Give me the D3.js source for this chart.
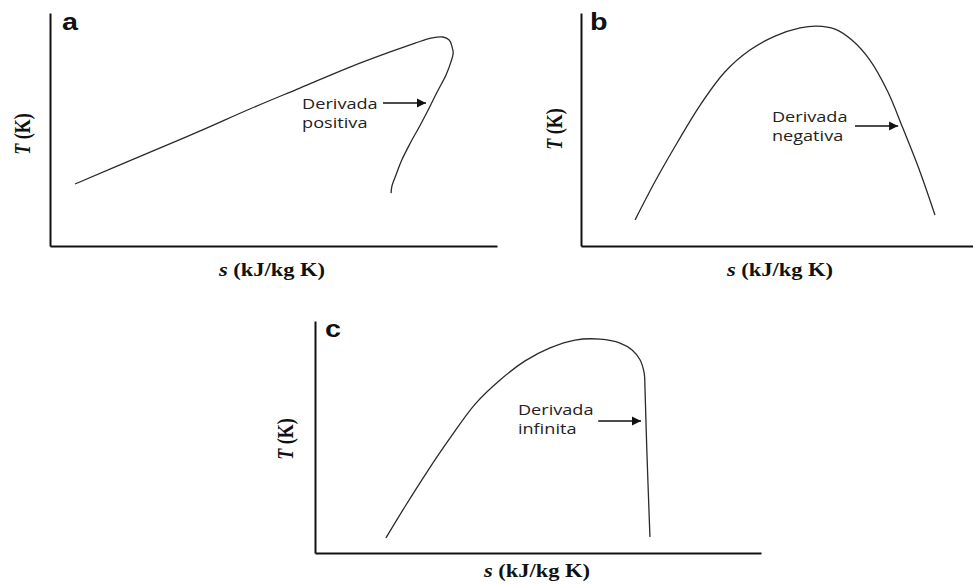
<!DOCTYPE html>
<html>
<head>
<meta charset="utf-8">
<script src="https://cdn.jsdelivr.net/npm/d3@7"></script>
<style>
  html, body { margin: 0; padding: 0; background: #fff; }
  svg { display: block; }
</style>
</head>
<body>
<svg id="chart" width="973" height="584"></svg>
<script>
// Curve samples (s, T) for each panel, in relative units 0–100 of each axis.
const sA = [5.6, 22.4, 33.6, 44.7, 55.9, 67.1, 76.1, 81.7, 85.5, 87.9, 89.3, 89.9, 90.2, 89.7, 88.6, 86.6, 84.6, 82.6, 80.5, 78.7, 77.4, 76.5, 76.3];
const tA = [26.6, 40.3, 49.4, 58.8, 67.8, 76.8, 83.3, 87.1, 89.3, 89.7, 88.4, 85.8, 82.8, 79.0, 73.4, 66.1, 58.4, 51.1, 43.8, 36.9, 30.5, 25.8, 22.7];

const sB = [13.8, 19.1, 24.5, 30.4, 36.7, 43.1, 49.5, 55.9, 60.2, 64.8, 69.1, 73.7, 78.3, 82.1, 86.5, 90.3];
const tB = [11.2, 28.3, 44.2, 60.5, 74.7, 84.1, 90.1, 93.6, 94.4, 93.1, 88.4, 79.8, 66.1, 50.6, 31.8, 13.3];

const sC = [15.9, 20.4, 25.1, 30.3, 35.9, 41.5, 47.1, 52.7, 58.3, 63.9, 68.4, 71.1, 72.9, 73.8, 74.0, 74.4, 75.1];
const tC = [6.5, 20.7, 34.9, 49.6, 64.2, 74.6, 82.8, 88.4, 91.8, 92.2, 90.5, 87.5, 83.2, 77.6, 70.3, 44.4, 6.9];

// Panel letters, annotation wording and axis titles.
const panelLetters = ["a", "b", "c"];
const noteLines = [["Derivada", "positiva"], ["Derivada", "negativa"], ["Derivada", "infinita"]];
// Arrow: start s, tip s, level T; note text: left s, first baseline T.
const arrowFrom = [74.5, 69.9, 63.5];
const arrowTo = [84.1, 80.9, 73.1];
const arrowT = [61.4, 51.5, 56.9];
const noteS = [56.4, 48.7, 45.5];
const noteT = [58.8, 53.2, 59.5];
const xTitle = "s";
const xUnit = " (kJ/kg K)";
const yTitle = "T";
const yUnit = " (K)";

// Layout of each panel's axes box in pixels.
const frames = [
  { left: 50, right: 497, bottom: 246, top: 13, xLab: [272, 276], yLab: [30, 134], letter: [62, 30] },
  { left: 581, right: 973, bottom: 246, top: 13, xLab: [780, 276], yLab: [562, 129], letter: [590, 30] },
  { left: 315, right: 761, bottom: 553, top: 321, xLab: [537, 577], yLab: [293, 439], letter: [325, 337] }
];

const curves = [
  sA.map((s, i) => [s, tA[i]]),
  sB.map((s, i) => [s, tB[i]]),
  sC.map((s, i) => [s, tC[i]])
];

const STRETCH = 1.25;
const svg = d3.select("#chart");

const defs = svg.append("defs");
defs.append("marker")
  .attr("id", "head")
  .attr("viewBox", "0 0 10 10")
  .attr("refX", 10).attr("refY", 5)
  .attr("markerUnits", "userSpaceOnUse")
  .attr("markerWidth", 9).attr("markerHeight", 10)
  .attr("orient", "auto")
  .append("path")
  .attr("d", "M0,0 L10,5 L0,10 Z")
  .attr("fill", "#111");

frames.forEach((f, k) => {
  const x = d3.scaleLinear().domain([0, 100]).range([f.left, f.right]);
  const y = d3.scaleLinear().domain([0, 100]).range([f.bottom, f.top]);
  const g = svg.append("g");

  // axes: bare lines, no ticks
  const xAxis = g.append("g").attr("transform", `translate(0,${f.bottom})`)
    .call(d3.axisBottom(x).ticks(0).tickSize(0).tickSizeOuter(0));
  const yAxis = g.append("g").attr("transform", `translate(${f.left},0)`)
    .call(d3.axisLeft(y).ticks(0).tickSize(0).tickSizeOuter(0));
  [xAxis, yAxis].forEach(a => {
    a.selectAll("text").remove();
    a.select(".domain").attr("stroke", "#111").attr("stroke-width", 2);
  });

  // T–s curve
  g.append("path")
    .datum(curves[k])
    .attr("d", d3.line().x(d => x(d[0])).y(d => y(d[1])).curve(d3.curveCatmullRom.alpha(0.5)))
    .attr("fill", "none")
    .attr("stroke", "#2a2a2a")
    .attr("stroke-width", 1.3);

  // panel letter
  g.append("text")
    .attr("transform", `translate(${f.letter[0]},${f.letter[1]}) scale(${STRETCH},1)`)
    .attr("font-family", "'Liberation Sans', Arial, sans-serif")
    .attr("font-weight", "bold")
    .attr("font-size", 23)
    .attr("fill", "#111")
    .text(panelLetters[k]);

  // x-axis title
  const xt = g.append("text")
    .attr("transform", `translate(${f.xLab[0]},${f.xLab[1]}) scale(${STRETCH},1)`)
    .attr("text-anchor", "middle")
    .attr("font-family", "'Liberation Serif', 'Times New Roman', serif")
    .attr("font-weight", "bold")
    .attr("font-size", 18)
    .attr("fill", "#111");
  xt.append("tspan").attr("font-style", "italic").text(xTitle);
  xt.append("tspan").text(xUnit);

  // y-axis title
  const yt = g.append("text")
    .attr("transform", `translate(${f.yLab[0]},${f.yLab[1]}) scale(${STRETCH},1) rotate(-90)`)
    .attr("text-anchor", "middle")
    .attr("font-family", "'Liberation Serif', 'Times New Roman', serif")
    .attr("font-weight", "bold")
    .attr("font-size", 18)
    .attr("fill", "#111");
  yt.append("tspan").attr("font-style", "italic").text(yTitle);
  yt.append("tspan").text(yUnit);

  // annotation arrow
  g.append("line")
    .attr("x1", x(arrowFrom[k])).attr("x2", x(arrowTo[k]))
    .attr("y1", y(arrowT[k])).attr("y2", y(arrowT[k]))
    .attr("stroke", "#111").attr("stroke-width", 1.5)
    .attr("marker-end", "url(#head)");

  // annotation text
  const nt = g.append("text")
    .attr("transform", `translate(${x(noteS[k])},${y(noteT[k])}) scale(${STRETCH},1)`)
    .attr("font-family", "'Open Sans', 'Noto Sans', sans-serif")
    .attr("font-size", 14.5)
    .attr("fill", "#222");
  noteLines[k].forEach((line, i) => {
    nt.append("tspan").attr("x", 0).attr("dy", i === 0 ? 0 : 19).text(line);
  });
});
</script>
</body>
</html>
